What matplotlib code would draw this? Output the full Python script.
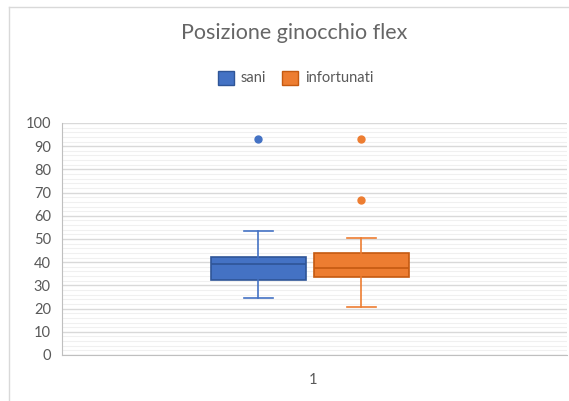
import matplotlib
matplotlib.use("Agg")
from matplotlib import pyplot as plt
from matplotlib.lines import Line2D
from matplotlib.patches import Patch

# box stats: low whisker, Q1, median, Q3, high whisker
series_names = ["sani", "infortunati"]
sani_stats = [24.7, 32.3, 39.4, 42.2, 53.5]
sani_fliers = [93.0]
infort_stats = [20.8, 33.6, 37.6, 44.0, 50.4]
infort_fliers = [93.0, 66.6]
category = "1"

fill_colors = ["#4472C4", "#ED7D31"]
edge_colors = ["#2F5597", "#C55A11"]
text_color = "#595959"

plt.rcParams["font.family"] = ["Lato", "DejaVu Sans"]

fig = plt.figure(figsize=(5.69, 4.01), dpi=100)
ax = fig.add_axes([62 / 569, 46 / 401, 505 / 569, 232 / 401])

stats = []
for name, s, fl in [(series_names[0], sani_stats, sani_fliers),
                    (series_names[1], infort_stats, infort_fliers)]:
    stats.append({"label": name, "whislo": s[0], "q1": s[1], "med": s[2],
                  "q3": s[3], "whishi": s[4], "fliers": fl})

positions = [0.3885, 0.5929]
for i, st in enumerate(stats):
    ax.bxp([st], positions=[positions[i]], widths=0.188, capwidths=0.057,
           patch_artist=True, showfliers=True,
           boxprops=dict(facecolor=fill_colors[i], edgecolor=edge_colors[i], linewidth=1.2),
           medianprops=dict(color=edge_colors[i], linewidth=1.2),
           whiskerprops=dict(color=fill_colors[i], linewidth=1.2),
           capprops=dict(color=fill_colors[i], linewidth=1.2),
           flierprops=dict(marker="o", markerfacecolor=fill_colors[i],
                           markeredgecolor=fill_colors[i], markersize=5))

ax.set_xlim(0, 1)
ax.set_ylim(0, 100)
ax.set_yticks(range(0, 101, 10))
ax.set_yticks(range(0, 101, 2), minor=True)
ax.set_xticks([0.497])
ax.set_xticklabels([category])
ax.grid(axis="y", which="major", color="#D9D9D9", linewidth=1.0)
ax.grid(axis="y", which="minor", color="#F0F0F0", linewidth=0.8)
ax.set_axisbelow(True)
ax.tick_params(axis="both", which="both", length=0, colors=text_color, labelsize=10.5)
ax.tick_params(axis="y", pad=8)
ax.tick_params(axis="x", pad=13)
for side in ["top", "right"]:
    ax.spines[side].set_visible(False)
for side in ["left", "bottom"]:
    ax.spines[side].set_color("#BFBFBF")

fig.text(0.517, 1 - 33 / 401, "Posizione ginocchio flex", ha="center", va="center",
         fontsize=15.5, color="#666666")

handles = [Patch(facecolor=fill_colors[i], edgecolor=edge_colors[i]) for i in range(2)]
fig.legend(handles, series_names, loc="center", bbox_to_anchor=(0.52, 1 - 78 / 401),
           ncol=2, frameon=False, fontsize=10.5, labelcolor=text_color,
           handlelength=1.1, handleheight=1.1, handletextpad=0.45, columnspacing=1.1)

# chart area border (left and top only visible)
fig.add_artist(Line2D([9 / 569, 9 / 569], [0, 1 - 7 / 401], color="#D9D9D9", linewidth=1))
fig.add_artist(Line2D([9 / 569, 1], [1 - 7 / 401, 1 - 7 / 401], color="#D9D9D9", linewidth=1))

fig.savefig("out.png", dpi=100)
